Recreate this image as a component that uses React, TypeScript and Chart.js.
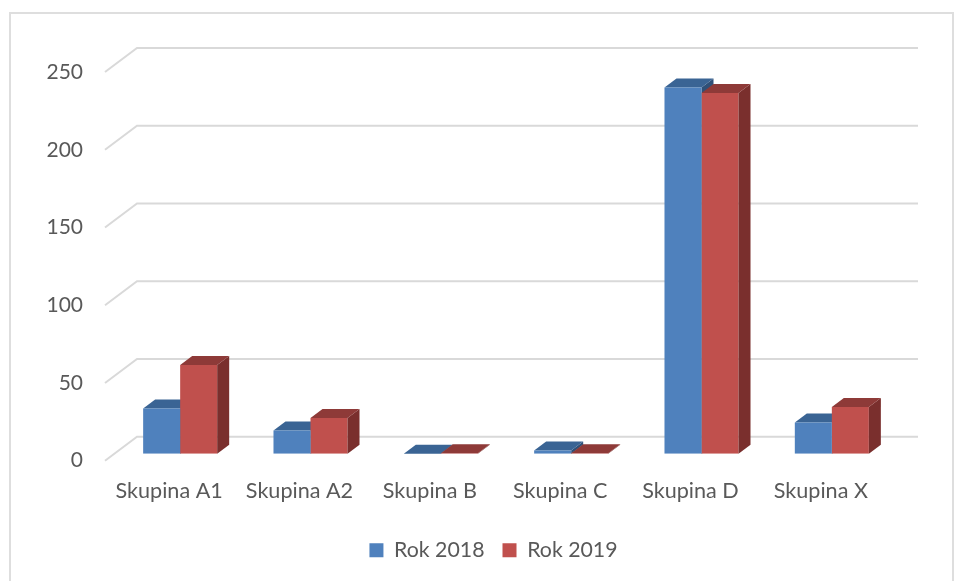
import React, { useEffect, useRef } from "react";
import { Chart, registerables } from "chart.js";

Chart.register(...registerables);

const categories = ["Skupina A1", "Skupina A2", "Skupina B", "Skupina C", "Skupina D", "Skupina X"];
const rok2018 = [29, 15, 0, 2, 235.5, 20];
const rok2019 = [57, 23, 0.3, 0.3, 232, 30];
const seriesNames = ["Rok 2018", "Rok 2019"];
const yTicks = [0, 50, 100, 150, 200, 250];

const FONT = "Lato, Carlito, Calibri, sans-serif";
const FONT_SIZE = 21.6;
const TEXT = "#595959";
const GRID = "#d9d9d9";
const shades = [
  { front: "#4f81bd", top: "#3a6494", side: "#2f5078" },
  { front: "#c0504d", top: "#8e3a38", side: "#7a2f2d" },
];

const BAR_DX = 12;
const BAR_DY = 9;

function extrude(chart: any, index: number) {
  const ctx = chart.ctx;
  const meta = chart.getDatasetMeta(index);
  const c = shades[index];
  meta.data.forEach((el: any) => {
    const l = el.x - el.width / 2;
    const r = el.x + el.width / 2;
    const t = el.y;
    const b = el.base;
    ctx.fillStyle = c.side;
    ctx.beginPath();
    ctx.moveTo(r, t);
    ctx.lineTo(r + BAR_DX, t - BAR_DY);
    ctx.lineTo(r + BAR_DX, b - BAR_DY);
    ctx.lineTo(r, b);
    ctx.closePath();
    ctx.fill();
    ctx.fillStyle = c.top;
    ctx.beginPath();
    ctx.moveTo(l, t);
    ctx.lineTo(l + BAR_DX, t - BAR_DY);
    ctx.lineTo(r + BAR_DX, t - BAR_DY);
    ctx.lineTo(r, t);
    ctx.closePath();
    ctx.fill();
  });
}

const wall3d = {
  id: "wall3d",
  afterLayout(chart: any) {
    chart.legend.left += 45;
    chart.legend.right += 45;
  },
  beforeDatasetsDraw(chart: any) {
    const { ctx, scales } = chart;
    const x = scales.x;
    const y = scales.y;
    ctx.save();
    ctx.strokeStyle = GRID;
    ctx.lineWidth = 2;
    yTicks.forEach((v) => {
      const py = y.getPixelForValue(v);
      ctx.beginPath();
      ctx.moveTo(x.left - 10, py + 7);
      ctx.lineTo(x.left + 22, py - 17);
      ctx.lineTo(x.right + 21, py - 17);
      ctx.stroke();
    });
    extrude(chart, 0);
    ctx.restore();
  },
  afterDatasetsDraw(chart: any) {
    chart.ctx.save();
    extrude(chart, 1);
    chart.ctx.restore();
  },
};

export default function App() {
  const ref = useRef<HTMLCanvasElement>(null);
  useEffect(() => {
    const chart = new Chart(ref.current!, {
      type: "bar",
      data: {
        labels: categories,
        datasets: [
          { label: seriesNames[0], data: rok2018, backgroundColor: shades[0].front },
          { label: seriesNames[1], data: rok2019, backgroundColor: shades[1].front },
        ],
      },
      options: {
        animation: false,
        responsive: false,
        layout: { padding: { left: 0, right: 60, top: 65, bottom: 10 } },
        datasets: { bar: { barPercentage: 1, categoryPercentage: 0.568 } },
        plugins: {
          tooltip: { enabled: false },
          legend: {
            position: "bottom",
            labels: {
              boxWidth: 14,
              boxHeight: 14,
              padding: 18,
              color: TEXT,
              font: { family: FONT, size: 21.3 },
            },
          },
        },
        scales: {
          x: {
            grid: { display: false, drawTicks: false },
            border: { display: false },
            ticks: {
              color: TEXT,
              font: { family: FONT, size: FONT_SIZE },
              padding: 24,
              labelOffset: -11,
              maxRotation: 0,
              autoSkip: false,
            },
            afterFit(s: any) {
              s.height = 68;
            },
          },
          y: {
            min: 0,
            max: 250,
            grid: { display: false, drawTicks: false },
            border: { display: false },
            ticks: {
              stepSize: 50,
              color: TEXT,
              font: { family: FONT, size: 21 },
              padding: 32,
              labelOffset: 7,
            },
            afterFit(s: any) {
              s.width = 115;
            },
          },
        },
      },
      plugins: [wall3d],
    } as any);
    return () => chart.destroy();
  }, []);
  return (
    <div style={{ position: "absolute", left: 0, top: 0, width: 957, height: 581, background: "#fff", overflow: "hidden" }}>
      <div style={{ position: "absolute", left: 9, top: 12, width: 945, height: 600, border: "2px solid #dedede", boxSizing: "border-box" }} />
      <canvas ref={ref} width={957} height={581} style={{ position: "absolute", left: 0, top: 0, display: "block" }} />
    </div>
  );
}
